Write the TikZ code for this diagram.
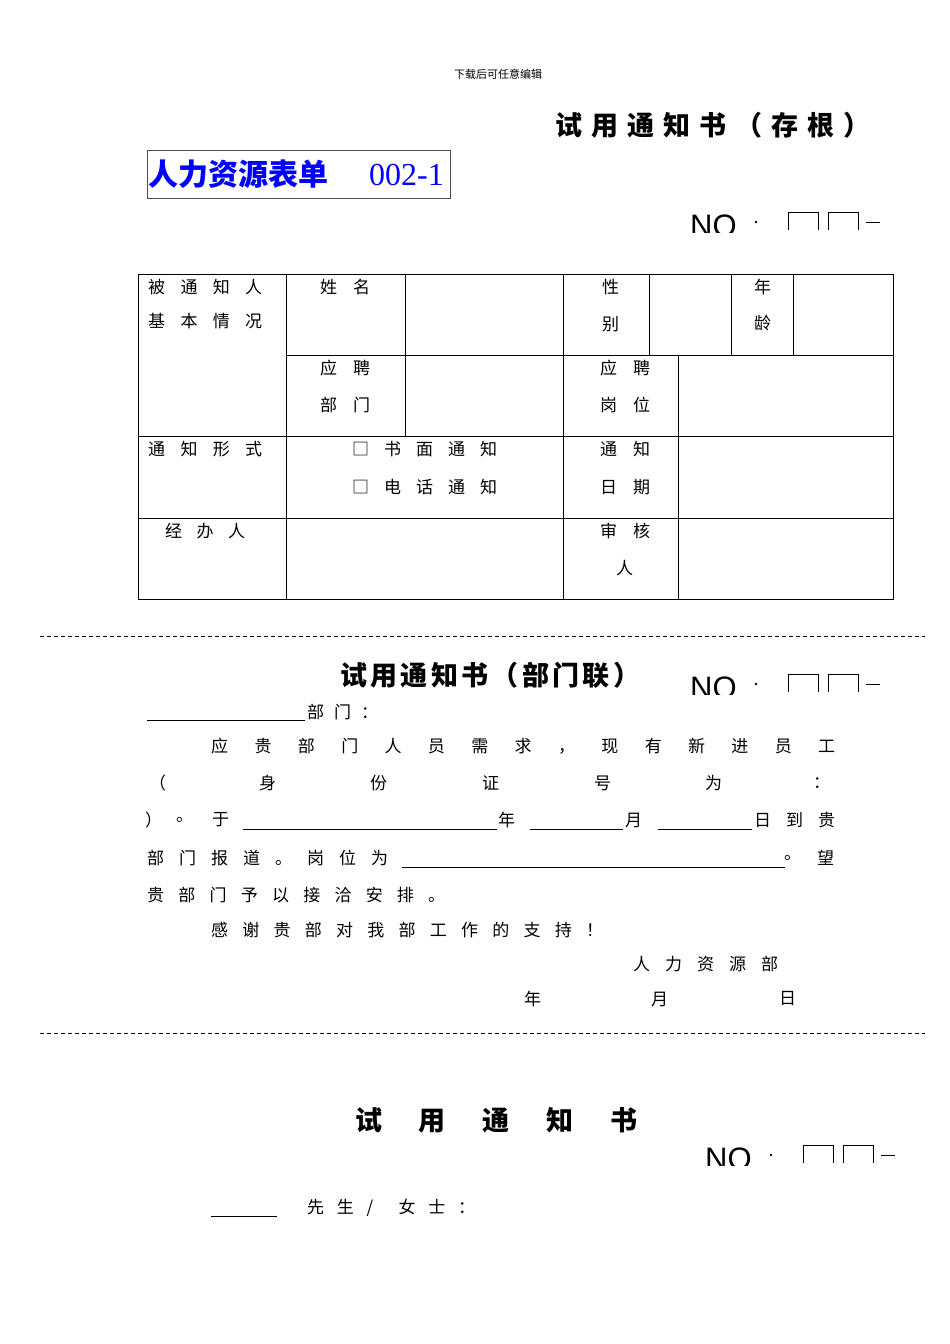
\documentclass[tikz,border=0pt]{standalone}
\usepackage{fontspec}
\setmainfont{Liberation Sans}
\newfontfamily\cjk{Noto Sans CJK SC}
\newcommand\spl[4]{\node[anchor=west,inner sep=0] at (#1,#2) {\makebox[#3pt][s]{#4}};}
\newcommand\tx[3]{\node[anchor=west,inner sep=0] at (#1,#2) {#3};}
\newcommand\nobox[2]{%
\begin{scope}
\clip (#1-10,#2-40) rectangle (#1+200,#2+10);
\node[anchor=base west,inner sep=0,font=\fontsize{31}{31}\selectfont] at (#1,#2+14) {NO};
\end{scope}
\fill (#1+66,#2) circle (1.3);
\draw[line width=0.8] (#1+98,#2+8) -- (#1+98,#2-10) -- (#1+128,#2-10) -- (#1+128,#2+8);
\draw[line width=0.8] (#1+138,#2+8) -- (#1+138,#2-10) -- (#1+168,#2-10) -- (#1+168,#2+8);
\draw[line width=0.8] (#1+176,#2) -- (#1+190,#2);}
\begin{document}
\begin{tikzpicture}[x=1pt,y=-1pt,font=\cjk\fontsize{17}{17}\selectfont]
\useasboundingbox[fill=white] (0,0) rectangle (950,1344);
\node[font=\cjk\fontsize{11}{11}\selectfont] (hd) at (498,74) {下载后可任意编辑};
% title 1
\node[anchor=west,inner sep=0,font=\cjk\bfseries\fontsize{27}{27}\selectfont] (t1) at (555,125) {\makebox[315pt][s]{试\hfill 用\hfill 通\hfill 知\hfill 书\hfill （\hfill 存\hfill 根\hfill ）}};
\node[draw=black!70,line width=0.8,minimum width=303pt,minimum height=48pt,inner sep=0,anchor=north west] (hr) at (147,150) {};
\node[anchor=west,inner sep=0,text=blue,font=\cjk\bfseries\fontsize{30}{30}\selectfont] at (148,174) {人力资源表单};
\node[anchor=west,inner sep=0,text=blue,font=\fontspec{Liberation Serif}\fontsize{32}{32}\selectfont] at (369,175) {002-1};
\nobox{690}{222}
% table
\begin{scope}[line width=0.8]
\draw (138,274) rectangle (893,599);
\draw (286,355) -- (893,355);
\draw (138,436) -- (893,436);
\draw (138,518) -- (893,518);
\draw (286,274) -- (286,599);
\draw (563,274) -- (563,599);
\draw (405,274) -- (405,436);
\draw (649,274) -- (649,355);
\draw (731,274) -- (731,355);
\draw (793,274) -- (793,355);
\draw (678,355) -- (678,599);
\end{scope}
\spl{148}{287}{114}{被\hfill 通\hfill 知\hfill 人}
\spl{148}{321}{114}{基\hfill 本\hfill 情\hfill 况}
\spl{320}{287}{50}{姓\hfill 名}
\tx{602}{287}{性}\tx{602}{324}{别}
\tx{754}{287}{年}\tx{754}{323}{龄}
\spl{320}{368}{50}{应\hfill 聘}
\spl{320}{405}{50}{部\hfill 门}
\spl{600}{368}{50}{应\hfill 聘}
\spl{600}{405}{50}{岗\hfill 位}
\spl{148}{449}{114}{通\hfill 知\hfill 形\hfill 式}
\spl{352}{449}{145}{□\hfill 书\hfill 面\hfill 通\hfill 知}
\spl{352}{487}{145}{□\hfill 电\hfill 话\hfill 通\hfill 知}
\spl{600}{449}{50}{通\hfill 知}
\spl{600}{487}{50}{日\hfill 期}
\spl{165}{531}{80}{经\hfill 办\hfill 人}
\spl{600}{531}{50}{审\hfill 核}
\tx{616}{568}{人}
\draw[line width=0.6,dash pattern=on 4pt off 3pt] (40,636) -- (925,636);
% section 2
\node[anchor=west,inner sep=0,font=\cjk\bfseries\fontsize{27}{27}\selectfont] (t2) at (340,675) {\makebox[300pt][s]{试\hfill 用\hfill 通\hfill 知\hfill 书\hfill （\hfill 部\hfill 门\hfill 联\hfill ）}};
\nobox{690}{684}
\draw[line width=0.7] (147,720) -- (305,720);
\spl{307}{712}{71}{部\hfill 门\hfill ：}
\spl{211}{746}{624}{应\hfill 贵\hfill 部\hfill 门\hfill 人\hfill 员\hfill 需\hfill 求\hfill ，\hfill 现\hfill 有\hfill 新\hfill 进\hfill 员\hfill 工}
\tx{149}{783}{（}\tx{259}{783}{身}\tx{370}{783}{份}\tx{482}{783}{证}\tx{594}{783}{号}\tx{705}{783}{为}\tx{813}{783}{：}
\tx{145}{820}{）}\tx{176}{820}{。}\tx{212}{820}{于}
\draw[line width=0.7] (243,829) -- (497,829);
\tx{498}{820}{年}
\draw[line width=0.7] (530,829) -- (623,829);
\tx{625}{820}{月}
\draw[line width=0.7] (658,829) -- (752,829);
\spl{754}{820}{81}{日\hfill 到\hfill 贵}
\spl{147}{858}{241}{部\hfill 门\hfill 报\hfill 道\hfill 。\hfill 岗\hfill 位\hfill 为}
\draw[line width=0.7] (402,867) -- (785,867);
\tx{784}{858}{。}\tx{817}{858}{望}
\spl{147}{895}{298}{贵\hfill 部\hfill 门\hfill 予\hfill 以\hfill 接\hfill 洽\hfill 安\hfill 排\hfill 。}
\spl{211}{930}{392}{感\hfill 谢\hfill 贵\hfill 部\hfill 对\hfill 我\hfill 部\hfill 工\hfill 作\hfill 的\hfill 支\hfill 持\hfill ！}
\spl{633}{964}{145}{人\hfill 力\hfill 资\hfill 源\hfill 部}
\tx{524}{999}{年}\tx{651}{999}{月}\tx{779}{999}{日}
\draw[line width=0.6,dash pattern=on 4pt off 3pt] (40,1033) -- (925,1033);
% section 3
\node[anchor=west,inner sep=0,font=\cjk\bfseries\fontsize{27}{27}\selectfont] (t3) at (355,1120) {\makebox[282pt][s]{试\hfill 用\hfill 通\hfill 知\hfill 书}};
\nobox{705}{1155}
\draw[line width=0.7] (211,1216) -- (277,1216);
\spl{307}{1208}{168}{先\hfill 生\hfill /\hfill \hfill 女\hfill 士\hfill ：}
\end{tikzpicture}
\end{document}
